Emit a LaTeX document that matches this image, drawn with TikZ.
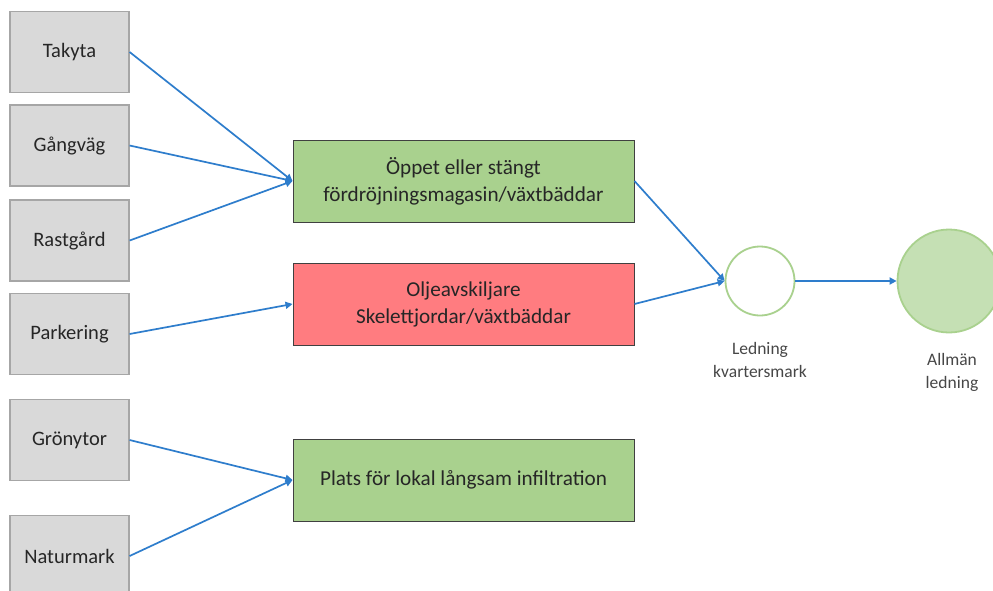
\documentclass[tikz,border=0pt]{standalone}
\usepackage{fontspec}
\setmainfont{Carlito}
\usetikzlibrary{arrows.meta}
\definecolor{boxgray}{HTML}{D9D9D9}
\definecolor{boxgrayline}{HTML}{A6A6A6}
\definecolor{boxgreen}{HTML}{A9D18E}
\definecolor{boxred}{HTML}{FF7C80}
\definecolor{linegreen}{HTML}{A9D18E}
\definecolor{fillgreen}{HTML}{C5E0B4}
\definecolor{arrowblue}{HTML}{2E7DCC}
\definecolor{txt}{HTML}{262626}
\tikzset{
  src/.style={draw=boxgrayline, fill=boxgray, line width=1.2pt, minimum width=119pt, minimum height=81pt, inner sep=0pt, text=txt, font=\fontsize{20.5}{24}\selectfont},
  proc/.style={draw=black!75, line width=1pt, minimum width=341pt, minimum height=82pt, inner sep=0pt, align=center, text=txt, font=\fontsize{21.2}{27}\selectfont},
  flow/.style={draw=arrowblue, line width=1.7pt, -{Triangle[length=7pt,width=7pt]}},
  lbl/.style={align=center, text=txt!85, font=\fontsize{17.5}{23}\selectfont}
}
\begin{document}
\begin{tikzpicture}[x=1pt,y=-1pt]
\clip (0,0) rectangle (993,590);
\fill[white] (0,0) rectangle (993,590);
% sources
\node[src] (tak) at (69.5,52) {Takyta};
\node[src] (gang) at (69.5,145.5) {Gångväg};
\node[src] (rast) at (69.5,240.5) {Rastgård};
\node[src] (park) at (69.5,334) {Parkering};
\node[src] (gron) at (69.5,440) {Grönytor};
\node[src] (natur) at (69.5,556) {Naturmark};
% processes
\node[proc, fill=boxgreen] (fdm) at (463.5,181) {Öppet eller stängt\\fördröjningsmagasin/växtbäddar};
\node[proc, fill=boxred] (olje) at (463.5,304) {Oljeavskiljare\\Skelettjordar/växtbäddar};
\node[proc, fill=boxgreen] (inf) at (463.5,480) {Plats för lokal långsam infiltration};
% circles
\node[circle, draw=linegreen, line width=1.8pt, fill=white, minimum size=69pt, inner sep=0pt] (kv) at (760,281) {};
\node[circle, draw=linegreen, line width=1.8pt, fill=fillgreen, minimum size=103pt, inner sep=0pt] (allm) at (949,281) {};
\node[lbl] (kvl) at (760,360) {Ledning\\kvartersmark};
\node[lbl] (allml) at (952,372) {Allmän\\ledning};
% arrows
\draw[flow] (tak.east) -- (fdm.west);
\draw[flow] (gang.east) -- (fdm.west);
\draw[flow] (rast.east) -- (fdm.west);
\draw[flow] (park.east) -- (olje.west);
\draw[flow] (gron.east) -- (inf.west);
\draw[flow] (natur.east) -- (inf.west);
\draw[flow] (fdm.east) -- (kv.west);
\draw[flow] (olje.east) -- (kv.west);
\draw[flow] (kv.east) -- (allm.west);
\end{tikzpicture}
\end{document}
